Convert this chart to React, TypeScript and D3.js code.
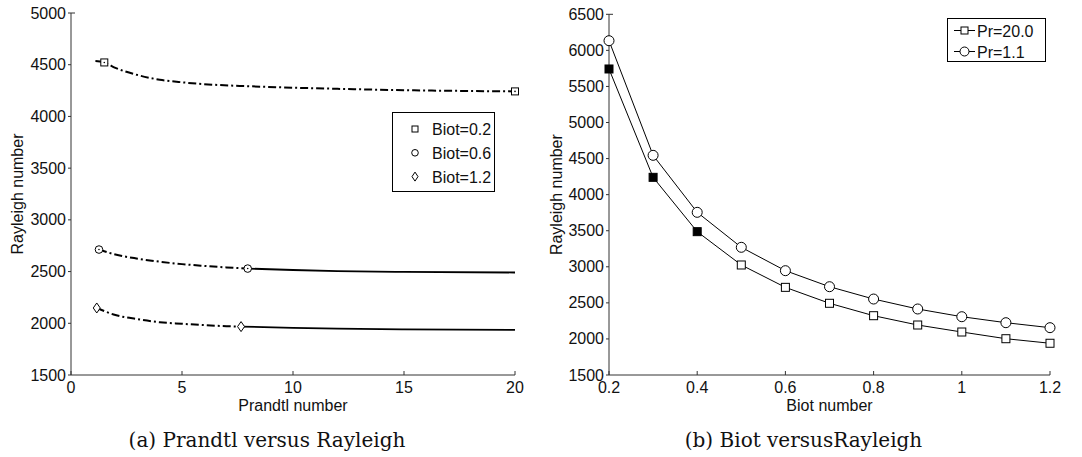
import React from "react";
import * as d3 from "d3";

// ---------- Panel (a): Prandtl vs Rayleigh ----------
const prXTicks = [0, 5, 10, 15, 20];
const prYTicks = [1500, 2000, 2500, 3000, 3500, 4000, 4500, 5000];

const b02DashPr = [1.1, 1.5, 2, 3, 4, 5, 6, 8, 10, 12, 15, 20];
const b02DashRa = [4535, 4522, 4470, 4400, 4355, 4330, 4312, 4292, 4278, 4267, 4254, 4242];
const b02MarkPr = [1.5, 20];
const b02MarkRa = [4522, 4242];

const b06DashPr = [1.26, 2, 3, 4, 5, 6, 7, 7.96];
const b06DashRa = [2713, 2665, 2625, 2595, 2572, 2555, 2540, 2529];
const b06SolidPr = [7.96, 10, 12, 15, 20];
const b06SolidRa = [2529, 2515, 2505, 2497, 2491];
const b06MarkPr = [1.26, 7.96];
const b06MarkRa = [2713, 2529];

const b12DashPr = [1.16, 2, 3, 4, 5, 6, 7, 7.66];
const b12DashRa = [2148, 2080, 2040, 2010, 1995, 1982, 1972, 1968];
const b12SolidPr = [7.66, 10, 12, 15, 20];
const b12SolidRa = [1968, 1956, 1948, 1941, 1936];
const b12MarkPr = [1.16, 7.66];
const b12MarkRa = [2148, 1968];

const legendA = ["Biot=0.2", "Biot=0.6", "Biot=1.2"];

// ---------- Panel (b): Biot vs Rayleigh ----------
const biotXTicks = [0.2, 0.4, 0.6, 0.8, 1, 1.2];
const biotYTicks = [1500, 2000, 2500, 3000, 3500, 4000, 4500, 5000, 5500, 6000, 6500];
const biot = [0.2, 0.3, 0.4, 0.5, 0.6, 0.7, 0.8, 0.9, 1.0, 1.1, 1.2];
const raPr20 = [5742, 4240, 3487, 3025, 2715, 2494, 2322, 2193, 2096, 2003, 1940];
const raPr11 = [6134, 4545, 3755, 3270, 2946, 2724, 2553, 2415, 2308, 2225, 2156];
const pr20Filled = [true, true, true, false, false, false, false, false, false, false, false];
const legendB = ["Pr=20.0", "Pr=1.1"];

const SANS = "'Liberation Sans', Arial, sans-serif";
const SERIF = "'DejaVu Serif', serif";
const AX = "#333";
const FS = 16;

function zip(xs: number[], ys: number[]): [number, number][] {
  return xs.map((x, i) => [x, ys[i]] as [number, number]);
}

function Square({ x, y, s, fill, dot }: { x: number; y: number; s: number; fill?: string; dot?: boolean }) {
  return (
    <g>
      <rect x={x - s / 2} y={y - s / 2} width={s} height={s} fill={fill || "white"} stroke="black" strokeWidth={1} />
      {dot && <circle cx={x} cy={y} r={0.8} fill="black" />}
    </g>
  );
}
function Circ({ x, y, r, dot }: { x: number; y: number; r: number; dot?: boolean }) {
  return (
    <g>
      <circle cx={x} cy={y} r={r} fill="white" stroke="black" strokeWidth={1} />
      {dot && <circle cx={x} cy={y} r={0.8} fill="black" />}
    </g>
  );
}
function Diamond({ x, y, w, h }: { x: number; y: number; w: number; h: number }) {
  const d = `M${x},${y - h / 2}L${x + w / 2},${y}L${x},${y + h / 2}L${x - w / 2},${y}Z`;
  return <path d={d} fill="white" stroke="black" strokeWidth={1} />;
}

function Axes({
  x, y, xTicks, yTicks, xFmt, xLabel, caption, ylabelX,
}: {
  x: d3.ScaleLinear<number, number>;
  y: d3.ScaleLinear<number, number>;
  xTicks: number[];
  yTicks: number[];
  xFmt: (v: number) => string;
  xLabel: string;
  caption: string;
  ylabelX: number;
}) {
  const [x0, x1] = x.range();
  const [y0, y1] = y.range();
  const cx = (x0 + x1) / 2;
  return (
    <g>
      <line x1={x0} y1={y0} x2={x1} y2={y0} stroke={AX} strokeWidth={1} />
      <line x1={x0} y1={y0} x2={x0} y2={y1} stroke={AX} strokeWidth={1} />
      {xTicks.map((t) => (
        <g key={"x" + t}>
          <line x1={x(t)} x2={x(t)} y1={y0} y2={y0 - 4} stroke={AX} />
          <text x={x(t)} y={y0 + 18} textAnchor="middle" fontFamily={SANS} fontSize={FS} fill="#111">
            {xFmt(t)}
          </text>
        </g>
      ))}
      {yTicks.map((t) => (
        <g key={"y" + t}>
          <line x1={x0 - 3} x2={x0} y1={y(t)} y2={y(t)} stroke={AX} />
          <text x={x0 - 5} y={y(t) + 5.5} textAnchor="end" fontFamily={SANS} fontSize={FS} fill="#111">
            {t}
          </text>
        </g>
      ))}
      <line x1={x0} x2={x0 + 4} y1={y1} y2={y1} stroke={AX} />
      <text x={cx} y={y0 + 36} textAnchor="middle" fontFamily={SANS} fontSize={FS} fill="#111">
        {xLabel}
      </text>
      <text
        transform={`translate(${ylabelX},${(y0 + y1) / 2}) rotate(-90)`}
        textAnchor="middle"
        fontFamily={SANS}
        fontSize={FS}
        fill="#111"
      >
        Rayleigh number
      </text>
      <text x={cx - 26} y={447} textAnchor="middle" fontFamily={SERIF} fontSize={20} fill="#111">
        {caption}
      </text>
    </g>
  );
}

export default function App() {
  // Panel a scales
  const xa = d3.scaleLinear().domain([0, 20]).range([71, 515]);
  const ya = d3.scaleLinear().domain([1500, 5000]).range([375, 13]);
  const lineA = d3
    .line<[number, number]>()
    .x((d) => xa(d[0]))
    .y((d) => ya(d[1]))
    .curve(d3.curveMonotoneX);

  // Panel b scales
  const xb = d3.scaleLinear().domain([0.2, 1.2]).range([609, 1050]);
  const yb = d3.scaleLinear().domain([1500, 6500]).range([375, 14.3]);
  const lineB = d3
    .line<[number, number]>()
    .x((d) => xb(d[0]))
    .y((d) => yb(d[1]));

  const dash = "8,3,2,3";

  return (
    <svg width={1082} height={457} style={{ position: "absolute", left: 0, top: 0, background: "white" }}>
      <rect width={1082} height={457} fill="white" />
      {/* ---- Panel a ---- */}
      <Axes
        x={xa}
        y={ya}
        xTicks={prXTicks}
        yTicks={prYTicks}
        xFmt={(v) => String(v)}
        xLabel="Prandtl number"
        caption="(a) Prandtl versus Rayleigh"
        ylabelX={23}
      />
      <path d={lineA(zip(b02DashPr, b02DashRa)) || ""} fill="none" stroke="black" strokeWidth={2} strokeDasharray={dash} />
      <path d={lineA(zip(b06DashPr, b06DashRa)) || ""} fill="none" stroke="black" strokeWidth={2} strokeDasharray={dash} />
      <path d={lineA(zip(b06SolidPr, b06SolidRa)) || ""} fill="none" stroke="black" strokeWidth={1.8} />
      <path d={lineA(zip(b12DashPr, b12DashRa)) || ""} fill="none" stroke="black" strokeWidth={2} strokeDasharray={dash} />
      <path d={lineA(zip(b12SolidPr, b12SolidRa)) || ""} fill="none" stroke="black" strokeWidth={1.8} />
      {b02MarkPr.map((p, i) => (
        <Square key={"s" + i} x={xa(p)} y={ya(b02MarkRa[i])} s={7} dot />
      ))}
      {b06MarkPr.map((p, i) => (
        <Circ key={"c" + i} x={xa(p)} y={ya(b06MarkRa[i])} r={3.8} dot />
      ))}
      {b12MarkPr.map((p, i) => (
        <Diamond key={"d" + i} x={xa(p)} y={ya(b12MarkRa[i])} w={7} h={10} />
      ))}
      {/* legend a */}
      <rect x={392.5} y={112.5} width={102} height={79} fill="white" stroke="black" strokeWidth={1} />
      {legendA.map((t, i) => {
        const ly = 129 + i * 23.8;
        return (
          <g key={t}>
            {i === 0 && <Square x={415} y={ly} s={6} />}
            {i === 1 && <Circ x={415} y={ly} r={3.3} />}
            {i === 2 && <Diamond x={415} y={ly} w={6} h={9} />}
            <text x={432} y={ly + 6} fontFamily={SANS} fontSize={FS} fill="#111">
              {t}
            </text>
          </g>
        );
      })}

      {/* ---- Panel b ---- */}
      <Axes
        x={xb}
        y={yb}
        xTicks={biotXTicks}
        yTicks={biotYTicks}
        xFmt={(v) => String(v)}
        xLabel="Biot number"
        caption="(b) Biot versusRayleigh"
        ylabelX={562}
      />
      <path d={lineB(zip(biot, raPr20)) || ""} fill="none" stroke="black" strokeWidth={1} />
      <path d={lineB(zip(biot, raPr11)) || ""} fill="none" stroke="black" strokeWidth={1} />
      {biot.map((b, i) => (
        <Square key={"b20" + i} x={xb(b)} y={yb(raPr20[i])} s={8} fill={pr20Filled[i] ? "black" : "white"} />
      ))}
      {biot.map((b, i) => (
        <Circ key={"b11" + i} x={xb(b)} y={yb(raPr11[i])} r={5} />
      ))}
      {/* legend b */}
      <rect x={947.5} y={18.5} width={98} height={43} fill="white" stroke="black" strokeWidth={1} />
      {legendB.map((t, i) => {
        const ly = 30.5 + i * 21;
        return (
          <g key={t}>
            <line x1={954} x2={975} y1={ly} y2={ly} stroke="black" strokeWidth={1} />
            {i === 0 ? <Square x={964.5} y={ly} s={7} /> : <Circ x={964.5} y={ly} r={4.5} />}
            <text x={977} y={ly + 6} fontFamily={SANS} fontSize={FS} fill="#111">
              {t}
            </text>
          </g>
        );
      })}
    </svg>
  );
}
